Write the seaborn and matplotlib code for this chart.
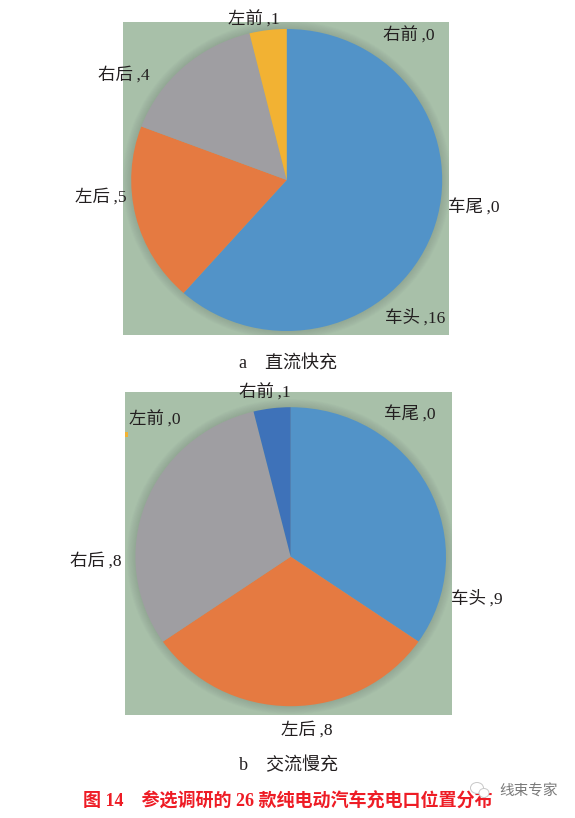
import matplotlib
matplotlib.use("Agg")
import matplotlib.pyplot as plt
from matplotlib.patches import Ellipse, Rectangle
import seaborn as sns

# Data
positions_a = ["车头", "车尾", "右前", "左后", "右后", "左前"]
counts_a = [16, 0, 0, 5, 4, 1]
positions_b = ["车头", "车尾", "左后", "右后", "左前", "右前"]
counts_b = [9, 0, 8, 8, 0, 1]
caption_a = "a    直流快充"
caption_b = "b    交流慢充"
title = "图 14    参选调研的 26 款纯电动汽车充电口位置分布"
watermark = "线束专家"

W, H = 575, 818

sns.set_theme(style="white")
plt.rcParams["font.family"] = ["Liberation Serif", "Noto Sans CJK SC"]

blue = "#5293c8"
orange = "#e57a41"
gray = "#9f9ea2"
yellow = "#f2b233"
dark_blue = "#3e72b9"
green_bg = "#a8c0a9"
colors_a = [blue, "#c55a11", dark_blue, orange, gray, yellow]
colors_b = [blue, dark_blue, orange, gray, yellow, dark_blue]

fig = plt.figure(figsize=(W / 100, H / 100), dpi=100, facecolor="white")


def put_text(x, y, s, **kw):
    # x, y in reference pixels, nudged down because the CJK font sits high
    kw.setdefault("fontsize", 12.6)
    kw.setdefault("color", "#231f20")
    fig.text(x / W, 1 - (y + 1.5) / H, s, ha="center", va="center", **kw)


def draw_pie(values, colors, box, center, radii):
    left, top, right, bottom = box
    cx, cy = center
    rx, ry = radii
    ax = fig.add_axes([left / W, 1 - bottom / H, (right - left) / W, (bottom - top) / H])
    # soft shadow round the pie
    for k in range(10, 0, -1):
        r = 1 + k * 0.0055
        ax.add_patch(Ellipse((0, 0), 2 * r, 2 * r, fc="#66796a", ec="none", alpha=0.03, zorder=0))
    ax.pie(values, colors=colors, startangle=90, counterclock=False, radius=1,
           wedgeprops={"linewidth": 0, "zorder": 2})
    ax.set_aspect("auto")
    ax.set_xlim((left - cx) / rx, (right - cx) / rx)
    ax.set_ylim((cy - bottom) / ry, (cy - top) / ry)
    ax.set_frame_on(True)
    ax.set_facecolor(green_bg)
    sns.despine(ax=ax, left=True, bottom=True)
    return ax


draw_pie(counts_a, colors_a, (123, 22, 449, 335), (286.7, 180), (155.5, 151))
draw_pie(counts_b, colors_b, (125, 392, 452, 715), (290.7, 556.7), (155.3, 149.5))

# Labels
spots_a = [(415, 316), (474, 206.5), (409, 35), (100.5, 195.5), (124, 74), (254, 19)]
for name, n, (x, y) in zip(positions_a, counts_a, spots_a):
    put_text(x, y, f"{name}\u2009,{n}")

spots_b = [(476.5, 597.5), (410, 414), (306.5, 729), (95.5, 560), (155, 419), (265, 391.5)]
for name, n, (x, y) in zip(positions_b, counts_b, spots_b):
    put_text(x, y, f"{name}\u2009,{n}")

put_text(288, 362, caption_a, fontsize=13)
put_text(288.5, 764, caption_b, fontsize=13)
put_text(287.5, 800, title, color="#ee1c25", fontweight="bold", fontsize=13)

# small stray legend mark left of panel b
fig.add_artist(Rectangle((125 / W, 1 - 437 / H), 2.5 / W, 5.5 / H, fc=yellow, ec="none",
                         transform=fig.transFigure))

# watermark: chat bubbles and account name, bubbles sit over the title
for bx, by, bw, bh in [(477, 788, 13, 11), (484, 793, 10, 9)]:
    fig.add_artist(Ellipse((bx / W, 1 - by / H), bw / W, bh / H, fc="white", ec="#c8c8c8", lw=0.7,
                           transform=fig.transFigure, zorder=5))
put_text(529, 790, watermark, color="#7a7a7a", fontsize=10.5)

fig.savefig("out.png", dpi=100)
